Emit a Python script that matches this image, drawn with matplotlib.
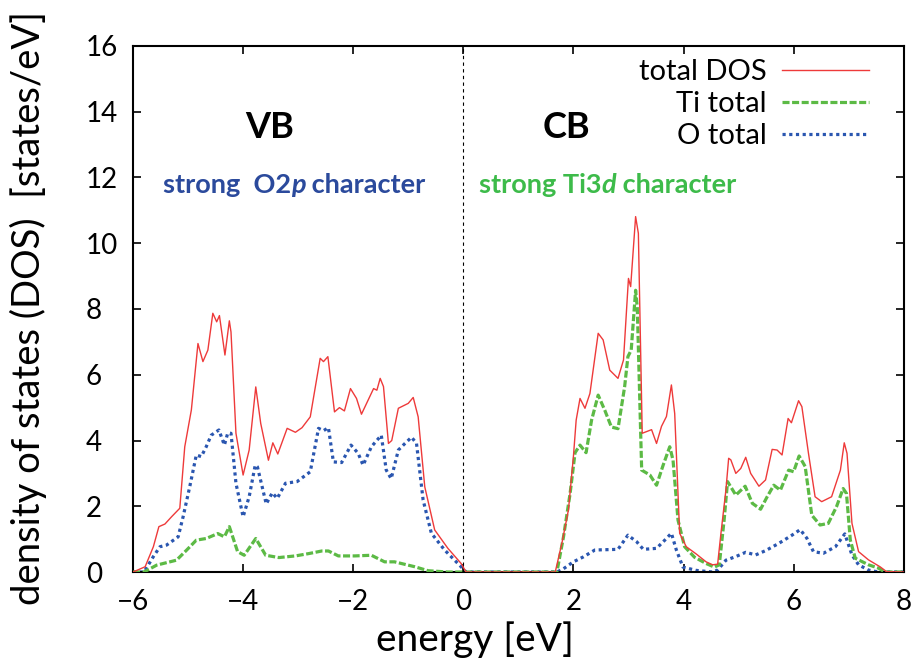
import numpy as np
import matplotlib
matplotlib.use("Agg")
import matplotlib.pyplot as plt

plt.rcParams['font.family'] = ['Lato', 'DejaVu Sans']

# valence band (energy in eV, DOS in states/eV)
vb_total_e = [-6.0, -5.78, -5.63, -5.53, -5.42, -5.30, -5.15, -5.06, -4.94, -4.82, -4.73,
              -4.64, -4.55, -4.48, -4.43, -4.33, -4.25, -4.22, -4.13, -4.00, -3.89, -3.77,
              -3.68, -3.54, -3.46, -3.37, -3.20, -3.05, -2.93, -2.78, -2.60, -2.54, -2.46,
              -2.34, -2.25, -2.16, -2.05, -1.94, -1.85, -1.63, -1.57, -1.51, -1.45, -1.36,
              -1.30, -1.18, -1.00, -0.91, -0.82, -0.70, -0.52, -0.28, -0.04, 0.05]
vb_total_dos = [0.0, 0.16, 0.77, 1.38, 1.46, 1.68, 1.94, 3.81, 4.93, 6.95, 6.40,
                6.75, 7.87, 7.61, 7.80, 6.60, 7.64, 7.30, 4.22, 2.95, 3.71, 5.63,
                4.52, 3.40, 3.93, 3.59, 4.37, 4.25, 4.39, 4.72, 6.50, 6.40, 6.55,
                4.87, 5.00, 4.90, 5.58, 5.28, 4.80, 5.58, 5.53, 5.89, 5.64, 3.91,
                4.00, 4.98, 5.13, 5.31, 4.72, 2.59, 1.28, 0.72, 0.26, 0.0]

vb_o_e = [-6.0, -5.80, -5.63, -5.51, -5.39, -5.18, -5.09, -4.97, -4.85, -4.76, -4.67,
          -4.58, -4.44, -4.34, -4.28, -4.22, -4.13, -4.00, -3.89, -3.78, -3.74, -3.58,
          -3.47, -3.38, -3.23, -3.02, -2.78, -2.63, -2.54, -2.45, -2.36, -2.21, -2.04,
          -1.91, -1.82, -1.67, -1.49, -1.40, -1.31, -1.18, -1.06, -0.94, -0.85, -0.73,
          -0.58, -0.34, -0.04, 0.05]
vb_o_dos = [0.0, 0.0, 0.47, 0.77, 0.82, 1.07, 1.68, 2.59, 3.56, 3.51, 3.81,
            4.16, 4.32, 3.86, 4.22, 4.22, 2.70, 1.68, 2.29, 3.25, 3.20, 2.07,
            2.41, 2.24, 2.70, 2.75, 3.05, 4.37, 4.30, 4.39, 3.35, 3.33, 3.86,
            3.61, 3.25, 3.81, 4.16, 3.10, 2.84, 3.71, 3.91, 4.10, 3.91, 2.19,
            1.18, 0.67, 0.16, 0.0]

vb_ti_e = [-6.0, -5.80, -5.57, -5.21, -5.03, -4.85, -4.67, -4.46, -4.34, -4.25, -4.10,
           -3.98, -3.77, -3.59, -3.35, -3.05, -2.81, -2.57, -2.45, -2.27, -1.97, -1.67,
           -1.43, -1.25, -0.88, -0.64, -0.28, 0.05]
vb_ti_dos = [0.0, 0.0, 0.21, 0.36, 0.66, 0.97, 1.02, 1.17, 1.07, 1.38, 0.62,
             0.51, 1.02, 0.51, 0.44, 0.49, 0.56, 0.64, 0.64, 0.49, 0.49, 0.51,
             0.31, 0.31, 0.16, 0.04, 0.0, 0.0]

# conduction band
cb_total_e = [0.05, 1.67, 1.79, 1.91, 2.00, 2.05, 2.12, 2.21, 2.30, 2.45, 2.54, 2.66,
              2.81, 2.91, 3.00, 3.04, 3.13, 3.18, 3.25, 3.42, 3.51, 3.60, 3.69, 3.78,
              3.84, 3.93, 4.05, 4.23, 4.41, 4.53, 4.62, 4.68, 4.77, 4.82, 4.86, 4.95,
              5.04, 5.13, 5.22, 5.37, 5.49, 5.61, 5.70, 5.79, 5.90, 5.96, 6.09, 6.15,
              6.27, 6.39, 6.51, 6.69, 6.85, 6.92, 6.97, 7.06, 7.18, 7.36, 7.57, 7.69, 8.0]
cb_total_dos = [0.0, 0.0, 0.87, 1.89, 3.51, 4.62, 5.28, 4.98, 5.43, 7.26, 7.06, 6.14,
                5.89, 6.45, 8.93, 8.68, 10.81, 10.30, 4.22, 4.33, 3.91, 4.43, 4.73, 5.69,
                4.82, 1.18, 0.77, 0.55, 0.31, 0.22, 0.24, 1.18, 2.49, 3.46, 3.41, 3.00,
                3.15, 3.49, 3.00, 2.61, 2.80, 3.73, 3.71, 3.56, 4.67, 4.54, 5.21, 5.03,
                3.61, 2.29, 2.14, 2.29, 3.10, 3.93, 3.61, 1.48, 0.62, 0.37, 0.16, 0.01, 0.0]

cb_ti_e = [0.05, 1.70, 1.82, 1.94, 2.03, 2.12, 2.23, 2.33, 2.45, 2.57, 2.69, 2.81,
           2.93, 2.99, 3.05, 3.13, 3.16, 3.24, 3.39, 3.51, 3.63, 3.75, 3.81, 3.90,
           4.02, 4.20, 4.41, 4.56, 4.65, 4.74, 4.80, 4.95, 5.12, 5.25, 5.40, 5.52,
           5.64, 5.76, 5.91, 6.00, 6.10, 6.21, 6.33, 6.48, 6.63, 6.78, 6.90, 6.96,
           7.03, 7.12, 7.36, 7.54, 7.66, 8.0]
cb_ti_dos = [0.0, 0.0, 1.07, 2.39, 3.63, 3.86, 3.63, 4.62, 5.38, 4.92, 4.41, 4.36,
             5.63, 6.55, 6.75, 8.57, 8.06, 3.10, 2.95, 2.64, 3.25, 3.81, 3.40, 1.58,
             0.77, 0.45, 0.26, 0.15, 0.22, 1.62, 2.75, 2.34, 2.61, 2.09, 1.91, 2.29,
             2.64, 2.49, 3.10, 3.05, 3.53, 3.21, 1.73, 1.43, 1.48, 1.99, 2.54, 2.39,
             0.97, 0.42, 0.22, 0.12, 0.0, 0.0]

cb_o_e = [0.05, 1.70, 1.82, 2.00, 2.18, 2.39, 2.81, 2.99, 3.15, 3.27, 3.51, 3.66,
          3.78, 3.87, 3.99, 4.23, 4.53, 4.62, 4.77, 4.95, 5.13, 5.31, 5.49, 5.73,
          5.97, 6.12, 6.24, 6.36, 6.54, 6.76, 6.93, 7.06, 7.18, 7.36, 7.54, 8.0]
cb_o_dos = [0.0, 0.0, 0.10, 0.31, 0.46, 0.67, 0.69, 1.12, 0.92, 0.69, 0.72, 0.97,
            1.18, 0.67, 0.15, 0.05, 0.0, 0.06, 0.36, 0.47, 0.60, 0.52, 0.65, 0.87,
            1.12, 1.29, 1.03, 0.62, 0.57, 0.77, 1.16, 0.52, 0.22, 0.06, 0.0, 0.0]

red = '#ee3a3a'
green = '#5cba45'
blue = '#2a56b0'
o2p_color = '#2b4a9c'
ti3d_color = '#3dbb4a'

energy_total = vb_total_e + cb_total_e
dos_total = vb_total_dos + cb_total_dos
energy_ti = vb_ti_e + cb_ti_e
dos_ti = vb_ti_dos + cb_ti_dos
energy_o = vb_o_e + cb_o_e
dos_o = vb_o_dos + cb_o_dos

fig = plt.figure(figsize=(9.11, 6.71), dpi=100)
ax = fig.add_axes([0.146, 0.1475, 0.846, 0.784])

ax.plot(energy_total, dos_total, color=red, lw=1.0, label='total DOS', zorder=4)
ax.plot(energy_ti, dos_ti, color=green, lw=2.3, dashes=(2.2, 0.8), label='Ti total', zorder=3)
ax.plot(energy_o, dos_o, color=blue, lw=2.3, dashes=(1.0, 1.1), label='O total', zorder=2)

# Fermi level
ax.axvline(0, color='black', lw=0.8, dashes=(3, 3), zorder=1)

ax.set_xlim(-6, 8)
ax.set_ylim(0, 16)
ax.set_xticks(np.arange(-6, 9, 2))
ax.set_yticks(np.arange(0, 17, 2))
ax.tick_params(direction='in', length=5.5, width=1.2, top=True, right=True,
               labelsize=20)
ax.tick_params(axis='x', pad=12)
ax.tick_params(axis='y', pad=34)
for lbl in ax.get_yticklabels():
    lbl.set_horizontalalignment('left')
for s in ax.spines.values():
    s.set_linewidth(1.5)

ax.set_xlabel('energy [eV]', fontsize=28, va='center')
ax.xaxis.set_label_coords(0.444, -0.129)
ax.set_ylabel('density of states (DOS)  [states/eV]', fontsize=27.5, va='center')
ax.yaxis.set_label_coords(-0.136, 0.502)

ax.text(-3.51, 13.52, 'VB', fontsize=26, fontweight='bold', ha='center', va='center')
ax.text(1.88, 13.52, 'CB', fontsize=26, fontweight='bold', ha='center', va='center')

# band character notes, with the orbital letter in italics
t1 = ax.text(-5.46, 11.77, 'strong  O2', fontsize=19.5, fontweight='bold',
             color=o2p_color, va='center')
t2 = ax.annotate('p', xy=(1, 0), xycoords=t1, fontsize=19.5, fontweight='bold',
                 fontstyle='italic', color=o2p_color, va='bottom')
ax.annotate(' character', xy=(1, 0), xycoords=t2, fontsize=19.5, fontweight='bold',
            color=o2p_color, va='bottom')

t3 = ax.text(0.28, 11.77, 'strong Ti3', fontsize=19.5, fontweight='bold',
             color=ti3d_color, va='center')
t4 = ax.annotate('d', xy=(1, 0), xycoords=t3, fontsize=19.5, fontweight='bold',
                 fontstyle='italic', color=ti3d_color, va='bottom')
ax.annotate(' character', xy=(1, 0), xycoords=t4, fontsize=19.5, fontweight='bold',
            color=ti3d_color, va='bottom')

ax.legend(loc='upper right', bbox_to_anchor=(0.955, 0.975), frameon=False,
          markerfirst=False, fontsize=21, handlelength=3.0, handletextpad=0.5,
          labelspacing=0.2, borderaxespad=0.0, borderpad=0.0)

fig.savefig('out.png', dpi=100)
